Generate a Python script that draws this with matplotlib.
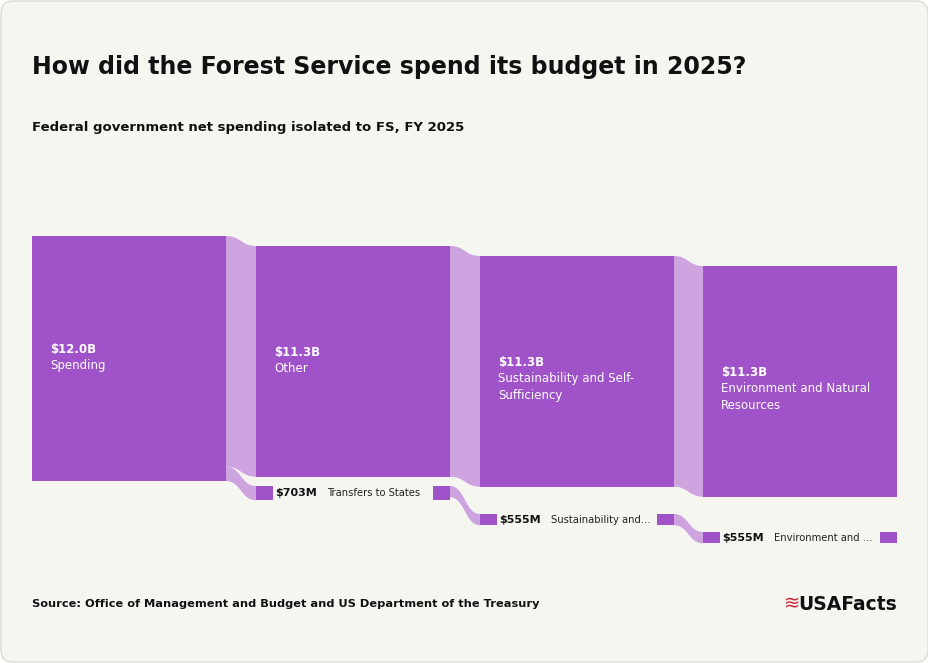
import matplotlib
matplotlib.use("Agg")
import matplotlib.pyplot as plt
from matplotlib.patches import Rectangle, PathPatch, FancyBboxPatch
from matplotlib.path import Path

big_values = [12.0, 11.3, 11.3, 11.3]
big_labels = ["$12.0B", "$11.3B", "$11.3B", "$11.3B"]
big_names = ["Spending", "Other", "Sustainability and Self-\nSufficiency", "Environment and Natural\nResources"]
small_values = [0.703, 0.555, 0.555]
small_labels = ["$703M", "$555M", "$555M"]
small_names = ["Transfers to States", "Sustainability and...", "Environment and ..."]

NODE = "#a052c8"
FLOW = "#cda3e0"
BG = "#f6f6f1"

fig = plt.figure(figsize=(9.29, 6.63), dpi=100)
fig.patch.set_facecolor("white")
ax = fig.add_axes([0, 0, 1, 1])
ax.set_xlim(0, 929); ax.set_ylim(663, 0); ax.axis("off")
ax.add_patch(FancyBboxPatch((1, 1), 927, 661, boxstyle="round,pad=0,rounding_size=12",
                            fc=BG, ec="#dcdcd6", lw=1))

scale = 245 / big_values[0]
colx = [32, 256, 480, 703]
w = 194
tops = [236, 246, 256, 266]
sw = 17

def band(x0, y0a, y0b, x1, y1a, y1b):
    xm = (x0 + x1) / 2
    verts = [(x0, y0a), (xm, y0a), (xm, y1a), (x1, y1a), (x1, y1b), (xm, y1b), (xm, y0b), (x0, y0b), (x0, y0a)]
    codes = [Path.MOVETO, Path.CURVE4, Path.CURVE4, Path.CURVE4, Path.LINETO,
             Path.CURVE4, Path.CURVE4, Path.CURVE4, Path.CLOSEPOLY]
    ax.add_patch(PathPatch(Path(verts, codes), fc=FLOW, ec="none"))

for i, v in enumerate(big_values):
    h = v * scale
    ax.add_patch(Rectangle((colx[i], tops[i]), w, h, fc=NODE, ec="none"))
    cy = tops[i] + h / 2
    ax.text(colx[i] + 18, cy - 2, big_labels[i], color="white", fontsize=8.5, fontweight="bold", va="bottom")
    ax.text(colx[i] + 18, cy + 1, big_names[i], color="white", fontsize=8.5, va="top", linespacing=1.4)

for i in range(3):
    h_next = big_values[i + 1] * scale
    band(colx[i] + w, tops[i], tops[i] + h_next, colx[i + 1], tops[i + 1], tops[i + 1] + h_next)

small_tops = [486, 514, 532]
h0 = small_values[0] * scale
sp_bottom = tops[0] + big_values[0] * scale
band(colx[0] + w, sp_bottom - h0, sp_bottom, colx[1], small_tops[0], small_tops[0] + h0)
for i, v in enumerate(small_values):
    h = v * scale
    x = colx[i + 1]
    y = small_tops[i]
    ax.add_patch(Rectangle((x, y), sw, h, fc=NODE, ec="none"))
    ax.add_patch(Rectangle((x + w - sw, y), sw, h, fc=NODE, ec="none"))
    ax.text(x + sw + 2, y + h / 2, small_labels[i], fontsize=8, fontweight="bold", va="center", color="#111")
    ax.text(x + 71, y + h / 2, small_names[i], fontsize=7.2, va="center", color="#222")
    if i < 2:
        hn = small_values[i + 1] * scale
        band(x + w, y, y + hn, colx[i + 2], small_tops[i + 1], small_tops[i + 1] + hn)

ax.text(32, 67, "How did the Forest Service spend its budget in 2025?", fontsize=17, fontweight="bold",
        va="center", color="#111")
ax.text(32, 128, "Federal government net spending isolated to FS, FY 2025", fontsize=9.5, fontweight="bold",
        va="center", color="#111")
ax.text(32, 604, "Source: Office of Management and Budget and US Department of the Treasury", fontsize=8.2,
        fontweight="bold", va="center", color="#111")
ax.text(897, 604, "USAFacts", fontsize=13.5, fontweight="bold", va="center", ha="right", color="#111")
ax.text(800, 604, "≋", fontsize=14, va="center", ha="right", color="#d0263a")

fig.savefig("out.png", dpi=100, facecolor="white")
